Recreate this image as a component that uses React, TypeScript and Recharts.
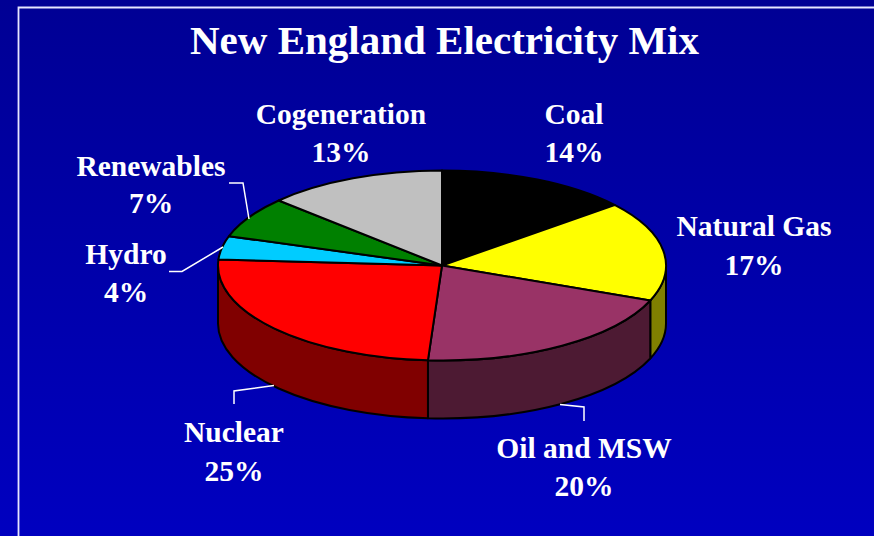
import { Cell, Pie, PieChart } from 'recharts'

const SOURCES = ['Coal', 'Natural Gas', 'Oil and MSW', 'Nuclear', 'Hydro', 'Renewables', 'Cogeneration']
const SHARES = [14, 17, 20, 25, 4, 7, 13]
const COLORS = ['#000000', '#ffff00', '#993366', '#ff0000', '#00ccff', '#008000', '#c0c0c0']

// label anchors, same order as SOURCES: [center x, first baseline, second baseline]
const LABEL_POS = [
  [574, 124, 162],
  [754, 236, 275],
  [584, 458, 496],
  [234, 442, 481],
  [126, 264, 302],
  [151, 176, 213],
  [341, 124, 162],
]
// leader lines, null where the label has none
const LEADERS = [
  null,
  null,
  '560,404.5 584,407 584,421',
  '234,404 234,391 274,385.5',
  '169,271.5 182,271.5 223,247',
  '229,183 243,183 249,219',
  null,
]

const WIDTH = 874
const HEIGHT = 536
const CX = 442
const CY = 265.5
const RX = 224
const RY = 95
const DEPTH = 58

const chartData = SOURCES.map((name, i) => ({ name, value: SHARES[i] }))

const pt = (deg: number, dy = 0) => {
  const a = (deg * Math.PI) / 180
  return `${(CX + RX * Math.cos(a)).toFixed(2)} ${(CY - RY * Math.sin(a) + dy).toFixed(2)}`
}

const darken = (hex: string) => {
  const n = parseInt(hex.slice(1), 16)
  const half = (v: number) => Math.round(v / 2).toString(16).padStart(2, '0')
  return `#${half((n >> 16) & 255)}${half((n >> 8) & 255)}${half(n & 255)}`
}

// flat pie squashed into an ellipse, with the rim drawn on the front half
function TiltedSlice(props: any) {
  const { startAngle, endAngle, fill } = props
  const large = Math.abs(startAngle - endAngle) > 180 ? 1 : 0
  const from = Math.min(startAngle, 0)
  const to = Math.max(endAngle, -180)
  return (
    <g>
      {from > to && (
        <path
          d={`M${pt(from)} A${RX} ${RY} 0 0 1 ${pt(to)} L${pt(to, DEPTH)} A${RX} ${RY} 0 0 0 ${pt(from, DEPTH)} Z`}
          fill={darken(fill)}
          stroke="#000"
          strokeWidth={2}
          strokeLinejoin="round"
        />
      )}
      <path
        d={`M${CX} ${CY} L${pt(startAngle)} A${RX} ${RY} 0 ${large} 1 ${pt(endAngle)} Z`}
        fill={fill}
        stroke="#000"
        strokeWidth={2}
        strokeLinejoin="round"
      />
    </g>
  )
}

function SliceLabel({ index, name, value }: any) {
  const [x, y1, y2] = LABEL_POS[index]
  const leader = LEADERS[index]
  const textProps = {
    x,
    fill: '#fff',
    fontFamily: '"Liberation Serif", serif',
    fontWeight: 700,
    fontSize: 29.5,
    textAnchor: 'middle' as const,
  }
  return (
    <g>
      {leader && <polyline points={leader} fill="none" stroke="#fff" strokeWidth={1.5} />}
      <text {...textProps} y={y1}>{name}</text>
      <text {...textProps} y={y2}>{value}%</text>
    </g>
  )
}

export default function App() {
  return (
    <div
      style={{
        position: 'absolute',
        left: 0,
        top: 0,
        width: WIDTH,
        height: HEIGHT,
        background: 'linear-gradient(180deg, #000094 0%, #0000c0 100%)',
      }}
    >
      <PieChart width={WIDTH} height={HEIGHT} margin={{ top: 0, right: 0, bottom: 0, left: 0 }}>
        <path d={`M18.5 ${HEIGHT} V7.5 H${WIDTH}`} fill="none" stroke="#e6e6ff" strokeWidth={1.8} />
        <text
          x={444.5}
          y={54}
          fill="#fff"
          fontFamily='"Liberation Serif", serif'
          fontWeight={700}
          fontSize={41}
          textAnchor="middle"
        >
          New England Electricity Mix
        </text>
        <Pie
          data={chartData}
          dataKey="value"
          nameKey="name"
          cx={CX}
          cy={CY}
          innerRadius={0}
          outerRadius={RX}
          startAngle={90}
          endAngle={-270}
          shape={TiltedSlice}
          label={SliceLabel}
          labelLine={false}
          isAnimationActive={false}
        >
          {chartData.map((_, i) => (
            <Cell key={i} fill={COLORS[i]} />
          ))}
        </Pie>
      </PieChart>
    </div>
  )
}
